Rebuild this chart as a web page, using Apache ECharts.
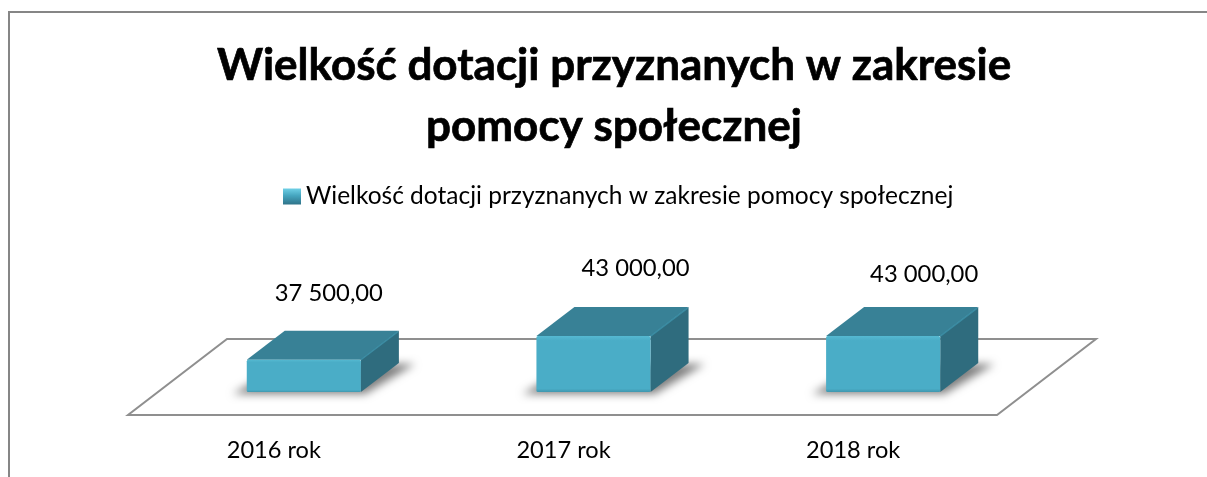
<!DOCTYPE html>
<html>
<head>
<meta charset="utf-8">
<style>html,body{margin:0;padding:0;background:#fff}#c{width:1207px;height:477px}</style>
<script src="https://cdn.jsdelivr.net/npm/echarts@6/dist/echarts.min.js"></script>
</head>
<body>
<div id="c"></div>
<script>
const categories = ['2016 rok', '2017 rok', '2018 rok'];
const values = [37500, 43000, 43000];
const seriesName = 'Wielkość dotacji przyznanych w zakresie pomocy społecznej';
const titleLines = ['Wielkość dotacji przyznanych w zakresie', 'pomocy społecznej'];

const FONT = 'Lato, "Open Sans", sans-serif';
const DEPTH_X = 38, DEPTH_Y = 29;
const LABEL_SHIFT = [[25, -66], [42, -68], [41, -62]];
const OFF = 3000;
const fmt = v => {
  const s = String(Math.round(v));
  return s.replace(/\B(?=(\d{3})+$)/g, ' ') + ',00';
};

function renderFloor(params, api) {
  const c = params.coordSys;
  const b = c.y + c.height;
  return {
    type: 'polygon',
    silent: true,
    shape: { points: [
      [c.x - 31, b + 23], [c.x + c.width - 31, b + 23],
      [c.x + c.width + 68, b - 53], [c.x + 68, b - 53]
    ] },
    style: { fill: '#fff', stroke: '#8f8f8f', lineWidth: 2 }
  };
}

function renderBar(params, api) {
  const i = params.dataIndex;
  const base = api.coord([api.value(0), 30000]);
  const top = api.coord([api.value(0), api.value(1)]);
  const w = api.size([1, 0])[0] * 0.394;
  const x0 = base[0] - w / 2, x1 = base[0] + w / 2;
  const yb = base[1], yt = top[1];
  const dx = DEPTH_X, dy = DEPTH_Y;
  const shift = LABEL_SHIFT[i];
  return {
    type: 'group',
    children: [
      { type: 'polygon',
        shape: { points: [[x0 - 14 - OFF, yb + 2], [x1 + 4 - OFF, yb + 2], [x1 + dx + 16 - OFF, yb - dy + 1], [x0 + dx - OFF, yb - dy + 1]] },
        style: { fill: '#000', shadowBlur: 8, shadowColor: 'rgba(0,0,0,0.5)', shadowOffsetX: OFF, shadowOffsetY: 0 } },
      { type: 'polygon',
        shape: { points: [[x1, yt], [x1 + dx, yt - dy], [x1 + dx, yb - dy], [x1, yb]] },
        style: { fill: '#2f6c7e' } },
      { type: 'polygon',
        shape: { points: [[x0, yt], [x0 + dx, yt - dy], [x1 + dx, yt - dy], [x1, yt]] },
        style: { fill: '#388196' } },
      { type: 'line',
        shape: { x1: x1, y1: yt, x2: x1 + dx - 1, y2: yt - dy + 1 },
        style: { stroke: '#3a8ba2', lineWidth: 1.5 } },
      { type: 'rect',
        shape: { x: x0, y: yt, width: x1 - x0, height: yb - yt, r: 1.5 },
        style: { fill: { type: 'linear', x: 0, y: 0, x2: 0, y2: 1, colorStops: [
          { offset: 0, color: '#55b9d1' }, { offset: 0.08, color: '#4aadc7' },
          { offset: 0.94, color: '#4aadc7' }, { offset: 1, color: '#3f97ae' }] } } },
      { type: 'text',
        style: { text: fmt(api.value(1)), x: base[0] + shift[0], y: yt + shift[1],
          align: 'center', verticalAlign: 'middle', fill: '#000', font: '23.8px ' + FONT } }
    ]
  };
}

const chart = echarts.init(document.getElementById('c'), null, { renderer: 'canvas' });
chart.setOption({
  animation: false,
  backgroundColor: '#fff',
  title: {
    text: titleLines.join('\n'),
    left: 609, top: 30, textAlign: 'center',
    textStyle: { fontFamily: FONT, fontSize: 44, fontWeight: 'bold', color: '#000', lineHeight: 61,
      textBorderColor: '#000', textBorderWidth: 0.7 }
  },
  legend: {
    data: [seriesName],
    left: 278, top: 179,
    icon: 'rect', itemWidth: 18, itemHeight: 16, itemGap: 6,
    itemStyle: { color: { type: 'linear', x: 0, y: 0, x2: 0, y2: 1, colorStops: [
      { offset: 0, color: '#6fd0e6' }, { offset: 0.45, color: '#45a5bf' }, { offset: 1, color: '#2f7389' }] } },
    textStyle: { fontFamily: FONT, fontSize: 24.5, color: '#000' }
  },
  grid: { left: 159, width: 869, top: 306, height: 86 },
  xAxis: {
    type: 'category', data: categories,
    axisLine: { show: false }, axisTick: { show: false },
    axisLabel: { fontFamily: FONT, fontSize: 23.6, color: '#000', margin: 46, padding: [0, 60, 0, 0] }
  },
  yAxis: { type: 'value', min: 30000, max: 50000, show: false, splitLine: { show: false } },
  series: [
    { name: 'floor', type: 'custom', coordinateSystem: 'cartesian2d', silent: true, z: 1,
      data: [[0, 30000]], renderItem: renderFloor },
    { name: seriesName, type: 'custom', coordinateSystem: 'cartesian2d', z: 2,
      encode: { x: 0, y: 1 }, itemStyle: { color: '#4aadc7' },
      data: values.map((v, i) => [i, v]), renderItem: renderBar }
  ],
  graphic: [{
    type: 'polyline', silent: true, z: 100,
    shape: { points: [[9, 477], [9, 12], [1207, 12]] },
    style: { stroke: '#868686', lineWidth: 2, fill: 'none' }
  }]
});
</script>
</body>
</html>
